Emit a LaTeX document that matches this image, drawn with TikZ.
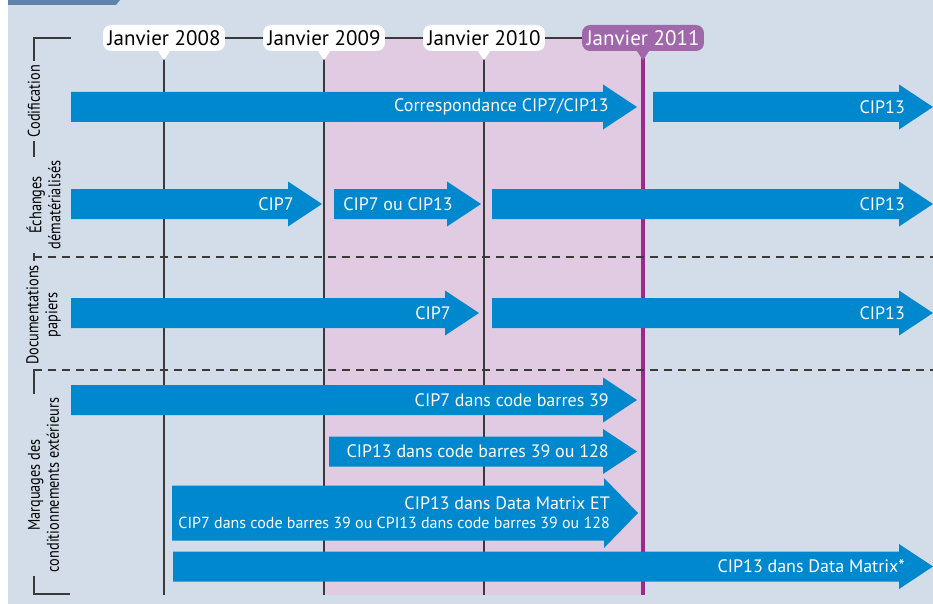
\documentclass[tikz,border=0pt]{standalone}
\usepackage{fontspec}
\setmainfont{PT Sans}
\newfontfamily\narrowfont{PT Sans}[FakeStretch=0.84]
\definecolor{bgblue}{HTML}{D3DDE9}
\definecolor{bandpink}{HTML}{E0CBE3}
\definecolor{arrowblue}{HTML}{0088CE}
\definecolor{datepurple}{HTML}{A0288C}
\definecolor{boxpurple}{HTML}{A067AA}
\definecolor{tabblue}{HTML}{5E82AA}
\definecolor{linegray}{HTML}{3A3A3A}
\newcommand{\blockarrow}[6]% name, start x, tip x, y, half height, text
{\fill[arrowblue] (#2,#4-#5) -- (#3-34,#4-#5) -- (#3-34,#4-#5-7.5) -- (#3,#4)
   -- (#3-34,#4+#5+7.5) -- (#3-34,#4+#5) -- (#2,#4+#5) -- cycle;
 \node[arrowtext] (#1) at (#3-28,#4) {#6};
}
\tikzset{
  datebox/.style={fill=white, rounded corners=8pt, inner xsep=4.5pt, inner ysep=0pt,
    minimum height=26pt, text=black, font=\fontsize{21}{23}\selectfont},
  dateline/.style={draw=linegray, line width=1.2pt},
  sidelabel/.style={rotate=90, fill=bgblue, align=center, inner xsep=4pt, inner ysep=1pt,
    font=\narrowfont\fontsize{17}{19}\selectfont},
  dashline/.style={draw=linegray, line width=1.2pt, dash pattern=on 8pt off 6pt},
  arrowtext/.style={anchor=east, align=right, inner sep=0pt, text=white,
    font=\fontsize{18}{19}\selectfont}
}
\begin{document}
\begin{tikzpicture}[x=1pt,y=-1pt]
\useasboundingbox (0,0) rectangle (933,604);
\fill[bgblue] (8,0) rectangle (933,604);
\fill[tabblue] (8,0) -- (120,0) -- (116,5) -- (8,5) -- cycle;
\fill[bandpink] (324,38) rectangle (642,595);
% dates
\node[datebox] (j2008) at (164,38) {Janvier 2008};
\node[datebox] (j2009) at (324,38) {Janvier 2009};
\node[datebox] (j2010) at (484,38) {Janvier 2010};
\node[datebox, fill=boxpurple, text=white] (j2011) at (643,38) {Janvier 2011};
\coordinate (e2008) at (164,595);
\coordinate (e2009) at (324,595);
\coordinate (e2010) at (484,595);
\coordinate (e2011) at (643,595);
\draw[dateline] (j2008.south) -- (e2008);
\draw[dateline] (j2009.south) -- (e2009);
\draw[dateline] (j2010.south) -- (e2010);
\draw[dateline, draw=datepurple, line width=4.5pt] (j2011.south) -- (e2011);
\fill[white] (j2008.south) ++(-6,0) -- ++(6,9) -- ++(6,-9) -- cycle;
\fill[white] (j2009.south) ++(-6,0) -- ++(6,9) -- ++(6,-9) -- cycle;
\fill[white] (j2010.south) ++(-6,0) -- ++(6,9) -- ++(6,-9) -- cycle;
\fill[boxpurple] (j2011.south) ++(-6,0) -- ++(6,9) -- ++(6,-9) -- cycle;
\draw[dateline] (j2008.east) -- (j2009.west);
\draw[dateline] (j2009.east) -- (j2010.west);
\draw[dateline] (j2010.east) -- (j2011.west);
% left bracket
\draw[dateline] (71,38) -- (34,38) -- (34,594) -- (70,594);
\node[sidelabel] (codif) at (34,101) {Codification};
\node[sidelabel] (echanges) at (43.5,205) {Échanges\\dématérialisés};
\node[sidelabel] (papiers) at (43.5,315) {Documentations\\papiers};
\node[sidelabel] (marquages) at (43.5,485) {Marquages des\\conditionnements extérieurs};
\draw[dashline] (34,257) -- (933,257);
\draw[dashline] (34,370) -- (933,370);
% arrows
\blockarrow{corresp}{71}{637}{107}{15}{Correspondance CIP7/CIP13}
\blockarrow{codcip}{653}{933}{107}{15}{CIP13}
\blockarrow{echsept}{71}{322}{204}{15}{CIP7}
\blockarrow{echou}{334}{481}{204}{15}{CIP7 ou CIP13}
\blockarrow{echtreize}{492}{933}{204}{15}{CIP13}
\blockarrow{papsept}{71}{479}{313}{15}{CIP7}
\blockarrow{paptreize}{492}{933}{313}{15}{CIP13}
\blockarrow{marqa}{71}{637}{400}{15}{CIP7 dans code barres 39}
\blockarrow{marqb}{329}{637}{451.5}{15}{CIP13 dans code barres 39 ou 128}
\blockarrow{marqc}{172}{638}{513}{27.5}{CIP13 dans Data Matrix ET\\\fontsize{16}{19}\selectfont CIP7 dans code barres 39 ou CPI13 dans code barres 39 ou 128}
\blockarrow{marqd}{173}{933}{566.5}{15}{CIP13 dans Data Matrix*}
\end{tikzpicture}
\end{document}
